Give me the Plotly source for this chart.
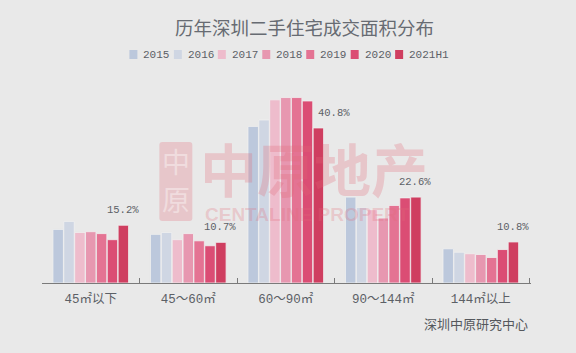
import plotly.graph_objects as go

categories = ["45㎡以下", "45～60㎡", "60～90㎡", "90～144㎡", "144㎡以上"]
years = ["2015", "2016", "2017", "2018", "2019", "2020", "2021H1"]
v2015 = [14.1, 12.8, 41.2, 22.6, 9.0]
v2016 = [16.2, 13.3, 42.9, 19.9, 8.1]
v2017 = [13.3, 11.4, 48.2, 19.3, 7.7]
v2018 = [13.5, 13.0, 48.8, 17.1, 7.5]
v2019 = [13.0, 11.1, 48.8, 20.4, 6.7]
v2020 = [11.4, 9.8, 47.9, 22.4, 8.8]
v2021 = [15.2, 10.7, 40.8, 22.6, 10.8]
series = [v2015, v2016, v2017, v2018, v2019, v2020, v2021]
colors = ["#bcc8dc", "#cfd6e3", "#eebccc", "#e797b0", "#e47393", "#db4d74", "#cf3e60"]
label_text = ["15.2%", "10.7%", "40.8%", "22.6%", "10.8%"]
label_xshift = [0, 0, 16, 0, 0]

W, H = 576, 353
L, R, T, B = 41.5, 45, 55, 70
BG = "#e9e9e9"
TXT = "#5c6066"
CJK = "Noto Sans CJK SC"
MONO = "Liberation Mono, " + CJK


def px(x):
    return (x - L) / (W - L - R)


def py(y):
    return 1 - (y - T) / (H - T - B)


def label(x, y, text, font, xanchor="center"):
    return dict(x=px(x), y=py(y), xref="paper", yref="paper", text=text, showarrow=False,
                xanchor=xanchor, yanchor="middle", font=font)


fig = go.Figure()
for name, vals, col in zip(years, series, colors):
    fig.add_bar(x=categories, y=vals, name=name, marker_color=col,
                marker_line_color="#f0f0f0", marker_line_width=0.8, showlegend=False)

ann = []
for i, (t, v, xs) in enumerate(zip(label_text, v2021, label_xshift)):
    ann.append(dict(x=i + 0.33, y=v, xref="x", yref="y", text=t, showarrow=False,
                    xanchor="center", yanchor="middle",
                    yshift=15, xshift=xs, font=dict(family=MONO, size=10.5, color=TXT)))

# title / source
ann.append(label(304, 27, "历年深圳二手住宅成交面积分布", dict(family=CJK, size=18.5, color="#676b72")))
ann.append(label(476, 323, "深圳中原研究中心", dict(family=CJK, size=13, color="#55585d")))

# legend built as swatches + labels (tight spacing of the original)
shapes = []
starts = [129, 173.5, 217.5, 262, 306, 350.5, 395]
for x0, name, col in zip(starts, years, colors):
    shapes.append(dict(type="rect", xref="paper", yref="paper", x0=px(x0), x1=px(x0 + 8),
                       y0=py(59), y1=py(50), fillcolor=col, line_width=0))
    ann.append(label(x0 + 12, 55, name, dict(family=MONO, size=11, color=TXT), xanchor="left"))

# watermark
WM = "rgba(226,105,120,0.27)"
shapes.append(dict(type="path", xref="paper", yref="paper", layer="above", line_width=0, fillcolor=WM,
                   path=f"M {px(162)},{py(142)} L {px(189)},{py(142)} Q {px(192)},{py(142)} {px(192)},{py(145)} "
                        f"L {px(192)},{py(218)} Q {px(192)},{py(221)} {px(189)},{py(221)} "
                        f"L {px(162)},{py(221)} Q {px(159)},{py(221)} {px(159)},{py(218)} "
                        f"L {px(159)},{py(145)} Q {px(159)},{py(142)} {px(162)},{py(142)} Z"))
ann.append(label(175.5, 161, "中", dict(family=CJK, size=28, color="#f0dcde")))
ann.append(label(175.5, 199, "原", dict(family=CJK, size=28, color="#f0dcde")))
ann.append(label(313.5, 167, "中原地产", dict(family=CJK, size=57, color=WM, weight=700)))
ann.append(label(203, 214, "CENTALINE PROPERT", dict(family="Liberation Sans", size=19, color=WM, weight=700), xanchor="left"))

fig.update_layout(
    width=W, height=H, autosize=False,
    paper_bgcolor=BG, plot_bgcolor=BG,
    barmode="group", bargap=0.22, bargroupgap=0.04,
    margin=dict(l=L, r=R, t=T, b=B, pad=0),
    annotations=ann, shapes=shapes, showlegend=False,
    xaxis=dict(type="category", showline=True, linecolor="#7a7a7a", linewidth=1,
               ticks="inside", tickson="boundaries", ticklen=5, tickcolor="#7a7a7a",
               ticklabelstandoff=4,
               showgrid=False, zeroline=False, tickfont=dict(family=MONO, size=12.5, color=TXT)),
    yaxis=dict(visible=False, range=[0, 60], showgrid=False, zeroline=False),
)
fig.write_html("out.html", config=dict(displayModeBar=False),
               post_script="document.body.style.margin='0';document.body.style.background='#e9e9e9';document.documentElement.style.overflow='hidden';")
